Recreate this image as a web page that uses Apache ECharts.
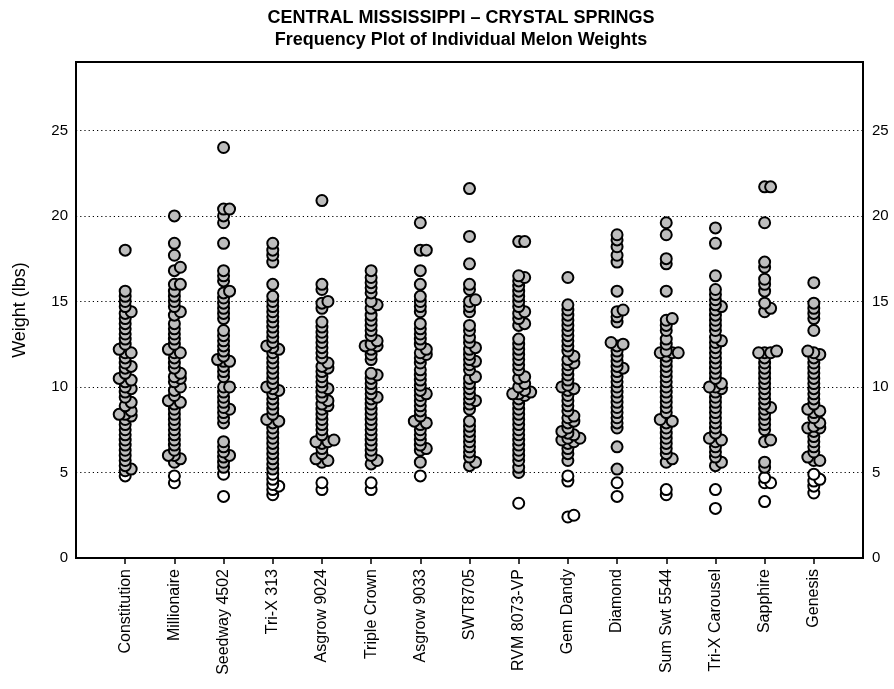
<!DOCTYPE html>
<html>
<head>
    <meta charset="utf-8">
    <title>Melon weights</title>
    <script src="https://cdn.jsdelivr.net/npm/echarts@6/dist/echarts.min.js"></script>
    <style>
        html,body{
            height: 100%;
            margin: 0;
            padding: 0;
            background: #fff;
        }
    </style>
</head>
<body>
    <div id="main" style="width: 894px;height:689px;"></div>
    <script type="text/javascript">
    var categories = ['Constitution', 'Millionaire', 'Seedway 4502', 'Tri-X 313', 'Asgrow 9024',
        'Triple Crown', 'Asgrow 9033', 'SWT8705', 'RVM 8073-VP', 'Gem Dandy', 'Diamond',
        'Sum Swt 5544', 'Tri-X Carousel', 'Sapphire', 'Genesis'];

    var yTicks = [0, 5, 10, 15, 20, 25];

    // individual melon weights (lbs), top to bottom
    var constitution = [18.0, 15.6, 15.3, 15.0, 14.7, 14.4, 14.3, 14.0, 13.7, 13.4, 13.1, 12.8, 12.5, 12.2, 12.0, 12.0,
        11.7, 11.4, 11.2, 11.1, 10.8, 10.5, 10.4, 10.3, 10.0, 9.9, 9.7, 9.4, 9.1, 8.9, 8.6, 8.4, 8.4, 8.3, 8.1,
        7.8, 7.5, 7.2, 6.9, 6.6, 6.3, 6.0, 5.7, 5.4, 5.2, 5.1, 4.8];
    var millionaire = [20.0, 18.4, 17.7, 17.0, 16.8, 16.0, 16.0, 15.6, 15.3, 15.0, 14.7, 14.4, 14.2, 13.7, 13.4, 13.1,
        12.8, 12.5, 12.2, 12.0, 12.0, 11.7, 11.4, 11.1, 10.8, 10.6, 10.5, 10.3, 10.0, 9.8, 9.5, 9.2, 9.1, 9.0,
        8.7, 8.4, 8.1, 7.8, 7.5, 7.2, 6.9, 6.6, 6.3, 6.0, 6.0, 5.8, 5.6, 4.8, 4.4];
    var seedway4502 = [24.0, 20.4, 20.4, 20.0, 19.6, 18.4, 16.8, 16.5, 16.2, 15.6, 15.5, 15.2, 14.9, 14.6, 14.3, 14.0,
        13.3, 13.0, 12.7, 12.4, 12.1, 11.8, 11.6, 11.5, 11.5, 11.2, 10.9, 10.6, 10.0, 10.0, 9.7, 9.4, 9.1, 8.8,
        8.7, 8.5, 8.2, 7.9, 6.8, 6.5, 6.2, 6.0, 5.9, 5.6, 5.3, 4.9, 3.6];
    var triX313 = [18.4, 18.0, 17.7, 17.3, 16.0, 15.3, 15.0, 14.7, 14.4, 14.1, 13.8, 13.5, 13.2, 12.9, 12.6, 12.4, 12.3,
        12.2, 12.0, 11.7, 11.4, 11.1, 10.8, 10.5, 10.2, 10.0, 9.9, 9.8, 9.6, 9.3, 9.0, 8.7, 8.4, 8.1, 8.0, 7.9,
        7.6, 7.3, 7.0, 6.7, 6.4, 6.1, 5.8, 5.5, 5.2, 4.9, 4.6, 4.3, 4.2, 4.0, 3.7];
    var asgrow9024 = [20.9, 16.0, 15.7, 15.0, 14.9, 14.6, 13.8, 13.5, 13.2, 12.9, 12.6, 12.3, 12.0, 11.7, 11.4, 11.2,
        11.1, 10.9, 10.6, 10.3, 10.0, 9.9, 9.7, 9.4, 9.2, 9.0, 8.9, 8.7, 8.4, 8.1, 7.8, 7.5, 7.2, 6.9, 6.8, 6.8,
        6.7, 6.4, 6.1, 5.8, 5.7, 5.6, 4.4, 4.0];
    var tripleCrown = [16.8, 16.4, 16.1, 15.8, 15.5, 15.0, 14.8, 14.6, 14.2, 13.9, 13.6, 13.3, 13.0, 12.7, 12.5, 12.4,
        12.4, 12.2, 11.9, 11.6, 10.8, 10.7, 10.5, 10.2, 9.9, 9.6, 9.4, 9.3, 9.0, 8.7, 8.4, 8.1, 7.8, 7.5, 7.2,
        6.9, 6.6, 6.3, 6.0, 5.7, 5.5, 4.4, 4.0];
    var asgrow9033 = [19.6, 18.0, 18.0, 16.8, 16.0, 15.3, 15.0, 14.7, 14.4, 13.7, 13.4, 13.1, 12.8, 12.5, 12.2, 12.0,
        11.9, 11.7, 11.4, 11.0, 10.7, 10.4, 10.1, 9.8, 9.6, 9.5, 9.2, 8.9, 8.6, 8.3, 8.0, 7.9, 7.8, 7.5, 7.2,
        6.9, 6.6, 6.4, 6.3, 5.6, 4.8];
    var swt8705 = [21.6, 18.8, 17.2, 16.0, 15.7, 15.1, 15.0, 14.7, 14.4, 13.6, 13.3, 12.9, 12.6, 12.3, 12.2, 11.9,
        11.6, 11.5, 11.3, 11.0, 10.6, 10.5, 10.2, 9.9, 9.6, 9.3, 9.2, 9.0, 8.7, 8.0, 7.7, 7.4, 7.1, 6.8, 6.5,
        6.2, 5.9, 5.6, 5.4];
    var rvm8073 = [18.5, 18.5, 16.5, 16.4, 16.2, 15.9, 15.6, 15.3, 15.0, 14.7, 14.4, 14.3, 14.0, 13.7, 13.6, 12.8,
        12.5, 12.2, 11.9, 11.6, 11.3, 11.0, 10.6, 10.5, 10.2, 10.0, 9.8, 9.7, 9.6, 9.6, 9.5, 9.3, 9.0, 8.7, 8.4,
        8.1, 7.8, 7.5, 7.2, 6.9, 6.6, 6.3, 6.0, 5.7, 5.3, 5.0, 3.2];
    var gemDandy = [16.4, 14.8, 14.5, 14.2, 13.9, 13.6, 13.3, 13.0, 12.7, 12.4, 12.1, 11.8, 11.6, 11.4, 11.3, 11.0,
        10.7, 10.4, 10.1, 10.0, 9.9, 9.8, 9.5, 9.2, 8.9, 8.6, 8.3, 8.2, 8.0, 7.9, 7.6, 7.4, 7.3, 7.2, 7.0, 7.0,
        6.9, 6.8, 6.7, 6.4, 6.1, 5.7, 4.8, 4.5, 2.5, 2.4];
    var diamond = [18.9, 18.6, 18.2, 17.7, 17.3, 15.6, 14.5, 14.4, 14.1, 13.8, 12.6, 12.5, 12.4, 12.1, 11.8, 11.5,
        11.2, 11.1, 10.9, 10.6, 10.3, 10.0, 9.7, 9.4, 9.1, 8.8, 8.5, 8.2, 7.9, 7.6, 6.5, 5.2, 4.4, 3.6];
    var sumSwt5544 = [19.6, 18.9, 17.5, 17.2, 15.6, 14.0, 13.9, 13.6, 13.3, 12.8, 12.5, 12.1, 12.0, 12.0, 12.0, 11.8,
        11.5, 11.2, 10.9, 10.6, 10.3, 10.0, 9.7, 9.4, 9.1, 8.8, 8.5, 8.1, 8.0, 7.9, 7.6, 7.3, 7.0, 6.7, 6.4,
        6.1, 5.8, 5.6, 4.0, 3.7];
    var triXCarousel = [19.3, 18.4, 16.5, 15.7, 15.4, 15.1, 14.8, 14.7, 14.5, 14.2, 13.9, 13.6, 13.3, 12.9, 12.7, 12.6,
        12.3, 12.0, 11.7, 11.4, 11.1, 10.8, 10.5, 10.2, 10.0, 10.0, 9.9, 9.7, 9.4, 9.1, 8.8, 8.5, 8.2, 7.9, 7.6,
        7.3, 7.0, 6.9, 6.8, 6.5, 6.2, 5.9, 5.6, 5.4, 4.0, 2.9];
    var sapphire = [21.7, 21.7, 19.6, 17.3, 17.0, 16.3, 16.0, 15.6, 14.9, 14.6, 14.4, 12.1, 12.0, 12.0, 12.0, 11.7,
        11.4, 11.1, 10.8, 10.5, 10.2, 9.9, 9.6, 9.3, 9.0, 8.8, 8.7, 8.4, 8.1, 7.8, 7.5, 6.9, 6.8, 5.6, 5.3,
        4.7, 4.4, 4.4, 3.3];
    var genesis = [16.1, 14.9, 14.6, 14.3, 14.0, 13.3, 12.1, 12.0, 11.9, 11.7, 11.4, 11.1, 10.8, 10.5, 10.2, 9.9,
        9.6, 9.3, 9.0, 8.7, 8.6, 8.5, 8.2, 7.9, 7.7, 7.6, 7.6, 7.4, 7.1, 6.8, 6.5, 6.2, 5.9, 5.7, 5.7, 4.9,
        4.6, 4.5, 4.2, 3.8];

    var weights = [constitution, millionaire, seedway4502, triX313, asgrow9024, tripleCrown, asgrow9033,
        swt8705, rvm8073, gemDandy, diamond, sumSwt5544, triXCarousel, sapphire, genesis];

    var catPos = categories.map(function(c, i){ return i + 1; });

    var font = "'Liberation Sans', Arial, sans-serif";
    var titleFont = "bold 18px 'Liberation Sans', Arial, sans-serif";
    var myChart = echarts.init(document.getElementById('main'));

    var yAxisBase = {
        type: 'value',
        min: 0,
        max: 29,
        interval: 5,
        axisLine: {show: true, lineStyle: {color: '#000', width: 2}},
        axisTick: {show: false},
        axisLabel: {
            color: '#000', fontSize: 15, fontFamily: font,
            formatter: function(v){ return yTicks.indexOf(v) >= 0 ? String(v) : ''; }
        }
    };

    var option = {
        animation: false,
        backgroundColor: '#fff',
        graphic: [
            {type: 'text', x: 461, y: 18, style: {
                text: 'CENTRAL MISSISSIPPI \u2013 CRYSTAL SPRINGS', align: 'center', verticalAlign: 'middle',
                font: titleFont, fill: '#000'}},
            {type: 'text', x: 461, y: 40, style: {
                text: 'Frequency Plot of Individual Melon Weights', align: 'center', verticalAlign: 'middle',
                font: titleFont, fill: '#000'}}
        ],
        grid: {
            left: 76, right: 31, top: 62, bottom: 131,
            show: true, borderColor: '#000', borderWidth: 2,
            outerBoundsMode: 'none'
        },
        xAxis: {
            type: 'value',
            min: 0,
            max: 16,
            interval: 1,
            splitLine: {show: false},
            axisLine: {lineStyle: {color: '#000', width: 2}},
            axisTick: {show: true, customValues: catPos, length: 6, lineStyle: {color: '#000', width: 1.5}},
            axisLabel: {
                customValues: catPos,
                rotate: 90, margin: 11,
                color: '#000', fontSize: 16, fontFamily: font,
                formatter: function(v){ return categories[v - 1] || ''; }
            }
        },
        yAxis: [
            echarts.util.merge({
                name: 'Weight (lbs)',
                nameLocation: 'middle',
                nameGap: 47,
                nameTextStyle: {color: '#000', fontSize: 18, fontFamily: font},
                axisLabel: {margin: 8},
                splitLine: {show: true, lineStyle: {color: '#000', type: [1.2, 3], width: 1.2}}
            }, yAxisBase, false),
            echarts.util.merge({
                position: 'right',
                axisLabel: {margin: 9},
                splitLine: {show: false}
            }, yAxisBase, false)
        ],
        series: []
    };

    myChart.setOption(option);

    // pixels per axis unit, used to lay the dots out side by side
    var p0 = myChart.convertToPixel({gridIndex: 0}, [0, 0]);
    var p1 = myChart.convertToPixel({gridIndex: 0}, [1, 1]);
    var pxX = p1[0] - p0[0];
    var pxY = p0[1] - p1[1];

    var step = 6, minDist = 5;
    var points = [];
    weights.forEach(function(vals, i){
        var sorted = vals.slice().sort(function(a, b){ return a - b; });
        var placed = [];
        sorted.forEach(function(v){
            var py = v * pxY;
            var ks = [0, 1, -1, 2, -2, 3, -3, 4, -4];
            for (var j = 0; j < ks.length; j++){
                var px = ks[j] * step;
                var ok = placed.every(function(q){
                    var dx = px - q[0], dy = py - q[1];
                    return dx * dx + dy * dy >= minDist * minDist;
                });
                if (ok || j == ks.length - 1){
                    placed.push([px, py]);
                    points.push([i + 1 + px / pxX, v]);
                    break;
                }
            }
        });
    });
    // lower dots first so the upper ones are painted over them
    points.sort(function(a, b){ return a[1] - b[1]; });

    myChart.setOption({
        series: [{
            type: 'scatter',
            symbol: 'circle',
            symbolSize: 11,
            data: points,
            itemStyle: {
                opacity: 1,
                borderColor: '#000',
                borderWidth: 2,
                color: function(p){ return p.value[1] < 5 ? '#fff' : '#bdbdbd'; }
            },
            emphasis: {disabled: true}
        }]
    });
    </script>
</body>
</html>
